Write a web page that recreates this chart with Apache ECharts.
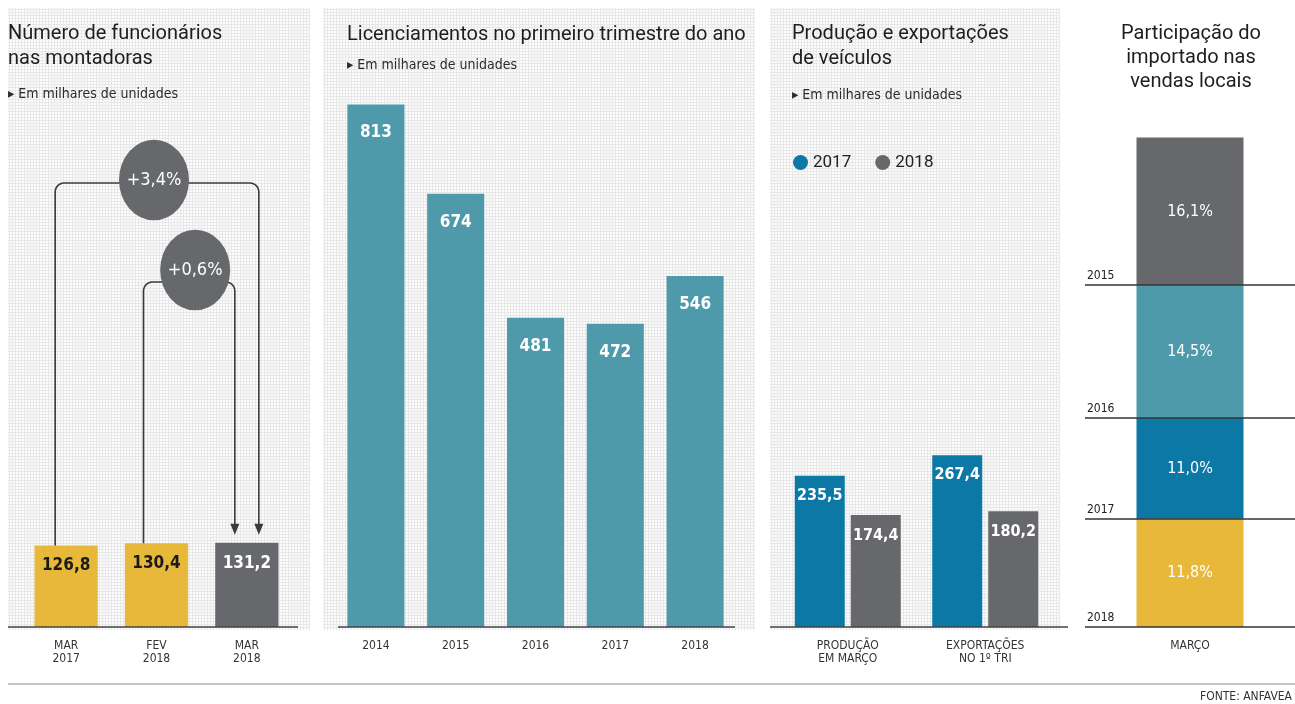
<!DOCTYPE html>
<html><head><meta charset="utf-8">
<script src="https://cdn.jsdelivr.net/npm/echarts@6/dist/echarts.min.js"></script>
<style>html,body{margin:0;padding:0;background:#fff}#c{width:1295px;height:704px}</style>
</head><body><div id="c"></div>
<script>
// ---- DATA ----
const empCats = ['MAR\n2017', 'FEV\n2018', 'MAR\n2018'];
const empValues = [126.8, 130.4, 131.2];
const empChanges = ['+3,4%', '+0,6%'];

const licCats = ['2014', '2015', '2016', '2017', '2018'];
const licValues = [813, 674, 481, 472, 546];

const prodCats = ['PRODUÇÃO\nEM MARÇO', 'EXPORTAÇÕES\nNO 1º TRI'];
const prodSeriesNames = ['2017', '2018'];
const prod2017 = [235.5, 267.4];
const prod2018 = [174.4, 180.2];

const impCats = ['MARÇO'];
const impYears = ['2018', '2017', '2016', '2015'];
const impValues = [11.8, 11.0, 14.5, 16.1];

const titles = {
  emp: 'Número de funcionários\nnas montadoras',
  lic: 'Licenciamentos no primeiro trimestre do ano',
  prod: 'Produção e exportações\nde veículos',
  imp: 'Participação do\nimportado nas\nvendas locais',
  sub: '▸ Em milhares de unidades',
  source: 'FONTE: ANFAVEA'
};

// ---- STYLE ----
const YELLOW = '#e8b83b', GRAY = '#67686c', TEAL = '#4f9aaa', BLUE = '#0b78a5';
const empColors = [YELLOW, YELLOW, GRAY];
const empLabelColors = ['#1a1a1a', '#1a1a1a', '#ffffff'];
const impColors = [YELLOW, BLUE, TEAL, GRAY];
const NARROW = '"Liberation Sans Narrow","DejaVu Sans Condensed","Roboto Condensed",Roboto,sans-serif';
const SANS = 'Roboto, "Noto Sans", sans-serif';
const fmt1 = v => v.toFixed(1).replace('.', ',');

// pattern (graph paper texture)
const pc = document.createElement('canvas');
pc.width = 3; pc.height = 3;
const pctx = pc.getContext('2d');
pctx.fillStyle = '#fcfcfc'; pctx.fillRect(0, 0, 3, 3);
pctx.fillStyle = '#e8e8e8'; pctx.fillRect(0, 0, 3, 1); pctx.fillRect(0, 0, 1, 3);

const chart = echarts.init(document.getElementById('c'));

const gridTop = 100, gridBottom = 77;
const axisLabelStyle = { color: '#333', fontFamily: NARROW, fontSize: 12, lineHeight: 13, margin: 12 };
function xAx(gi, data) {
  return { type: 'category', gridIndex: gi, data: data,
    axisLine: { show: false }, axisTick: { show: false },
    axisLabel: axisLabelStyle };
}
function yAx(gi, max) {
  return { type: 'value', gridIndex: gi, min: 0, max: max, show: false, splitLine: { show: false } };
}

// cumulative bottoms for the stacked share bar
const impBottoms = [];
impValues.reduce((acc, v) => { impBottoms.push(acc); return acc + v; }, 0);

const series = [
  { name: 'emp', type: 'bar', xAxisIndex: 0, yAxisIndex: 0, barWidth: '70%',
    data: empValues.map((v, i) => ({ value: v, itemStyle: { color: empColors[i] }, label: { color: empLabelColors[i] } })),
    label: { show: true, position: 'insideTop', distance: 12, fontFamily: NARROW, fontWeight: 'bold', fontSize: 17, formatter: p => fmt1(p.value) } },
  { name: 'lic', type: 'bar', xAxisIndex: 1, yAxisIndex: 1, barWidth: '71.5%',
    itemStyle: { color: TEAL }, data: licValues,
    label: { show: true, position: 'insideTop', distance: 20, color: '#fff', fontFamily: NARROW, fontWeight: 'bold', fontSize: 17 } },
  { name: prodSeriesNames[0], type: 'bar', xAxisIndex: 2, yAxisIndex: 2, barWidth: 50, barGap: '12%',
    itemStyle: { color: BLUE }, data: prod2017,
    label: { show: true, position: 'insideTop', distance: 12, color: '#fff', fontFamily: NARROW, fontWeight: 'bold', fontSize: 16, formatter: p => fmt1(p.value) } },
  { name: prodSeriesNames[1], type: 'bar', xAxisIndex: 2, yAxisIndex: 2, barWidth: 50, barGap: '12%',
    itemStyle: { color: GRAY }, data: prod2018,
    label: { show: true, position: 'insideTop', distance: 13, color: '#fff', fontFamily: NARROW, fontWeight: 'bold', fontSize: 16, formatter: p => fmt1(p.value) } }
];
impValues.forEach((v, i) => {
  series.push({
    name: 'imp' + impYears[i], type: 'bar', stack: 'imp', xAxisIndex: 3, yAxisIndex: 3, barWidth: 107,
    itemStyle: { color: impColors[i] }, data: [v],
    label: { show: true, position: 'inside', color: '#fff', fontFamily: NARROW, fontSize: 16, formatter: p => fmt1(p.value) + '%' },
    markLine: { silent: true, symbol: 'none', animation: false,
      lineStyle: { color: '#333', width: 1.5, type: 'solid' },
      label: { show: true, position: 'insideStartTop', distance: [2, 3], color: '#222', fontFamily: NARROW, fontSize: 12, formatter: impYears[i] },
      data: [{ yAxis: impBottoms[i] }] }
  });
});

chart.setOption({
  animation: false,
  backgroundColor: '#ffffff',
  grid: [
    { left: 21, width: 271, top: gridTop, bottom: gridBottom },
    { left: 336, width: 399, top: gridTop, bottom: gridBottom },
    { left: 779, width: 275, top: gridTop, bottom: gridBottom },
    { left: 1085, width: 213, top: gridTop, bottom: gridBottom }
  ],
  xAxis: [xAx(0, empCats), xAx(1, licCats), xAx(2, prodCats), xAx(3, impCats)],
  yAxis: [yAx(0, 820), yAx(1, 820), yAx(2, 820), yAx(3, 57.5)],
  legend: { data: prodSeriesNames, left: 788, top: 149, icon: 'circle', itemWidth: 15, itemHeight: 15, itemGap: 24,
    textStyle: { color: '#222', fontFamily: SANS, fontSize: 17 } },
  series: series
});

// ---- graphics: backgrounds, titles, baselines, annotations ----
const g = [];
const pat = { image: pc, repeat: 'repeat' };
[[8, 8, 302, 622], [323, 8, 432, 622], [770, 8, 290, 622]].forEach(r => {
  g.push({ type: 'rect', z: -10, silent: true, shape: { x: r[0], y: r[1], width: r[2], height: r[3] }, style: { fill: pat } });
});
function txt(x, y, text, font, fill, align, lh) {
  g.push({ type: 'text', x: x, y: y, z: 10, silent: true,
    style: { text: text, font: font, fill: fill, align: align || 'left', verticalAlign: 'top', lineHeight: lh } });
}
txt(8, 21, titles.emp, '20px ' + SANS, '#1e1e1e', 'left', 25);
txt(8, 87, titles.sub, '14px ' + NARROW, '#2a2a2a');
txt(347, 22, titles.lic, '20px ' + SANS, '#1e1e1e', 'left', 25);
txt(347, 58, titles.sub, '14px ' + NARROW, '#2a2a2a');
txt(792, 21, titles.prod, '20px ' + SANS, '#1e1e1e', 'left', 25);
txt(792, 88, titles.sub, '14px ' + NARROW, '#2a2a2a');
txt(1191, 22, titles.imp, '20px ' + SANS, '#1e1e1e', 'center', 24);

// baselines
const y0 = chart.convertToPixel({ gridIndex: 0 }, [0, 0])[1];
[[8, 298], [338, 735], [770, 1068]].forEach(s => {
  g.push({ type: 'line', z: 5, silent: true, shape: { x1: s[0], y1: y0, x2: s[1], y2: y0 }, style: { stroke: '#444', lineWidth: 1.6 } });
});

// footer
g.push({ type: 'line', silent: true, shape: { x1: 8, y1: 684, x2: 1295, y2: 684 }, style: { stroke: '#c6c6c6', lineWidth: 2 } });
txt(1292, 691, titles.source, '12px ' + NARROW, '#333', 'right');

// annotations in panel 1
const annots = [
  { from: 0, to: 2, fromOff: -11, toOff: 12, level: 183, circleDy: -3, circleDx: -3, text: empChanges[0] },
  { from: 1, to: 2, fromOff: -13, toOff: -12, level: 282, circleDy: -12, circleDx: 6, text: empChanges[1] }
];
const ANN = '#3a3a3a';
annots.forEach(a => {
  const pA = chart.convertToPixel({ gridIndex: 0 }, [a.from, empValues[a.from]]);
  const pB = chart.convertToPixel({ gridIndex: 0 }, [a.to, empValues[a.to]]);
  const xl = pA[0] + a.fromOff, xr = pB[0] + a.toOff, yb = a.level, r = 9;
  const tipY = pB[1] - 8;
  const pts = [[xl, pA[1]]];
  for (let k = 0; k <= 6; k++) { const t = Math.PI + k * Math.PI / 12; pts.push([xl + r + r * Math.cos(t), yb + r + r * Math.sin(t)]); }
  for (let k = 0; k <= 6; k++) { const t = 1.5 * Math.PI + k * Math.PI / 12; pts.push([xr - r + r * Math.cos(t), yb + r + r * Math.sin(t)]); }
  pts.push([xr, tipY - 9]);
  g.push({ type: 'polyline', z: 6, silent: true, shape: { points: pts }, style: { stroke: ANN, lineWidth: 1.6, fill: null } });
  g.push({ type: 'polygon', z: 6, silent: true, shape: { points: [[xr - 4.5, tipY - 11], [xr + 4.5, tipY - 11], [xr, tipY]] }, style: { fill: ANN } });
  const cx = (xl + xr) / 2 + a.circleDx, cy = yb + a.circleDy;
  g.push({ type: 'circle', z: 7, silent: true, x: cx, y: cy, scaleY: 1.15, shape: { cx: 0, cy: 0, r: 35 }, style: { fill: GRAY } });
  g.push({ type: 'text', z: 8, silent: true, x: cx, y: cy, style: { text: a.text, font: '18px ' + NARROW, fill: '#fff', align: 'center', verticalAlign: 'middle' } });
});

chart.setOption({ graphic: g });
</script>
</body></html>
